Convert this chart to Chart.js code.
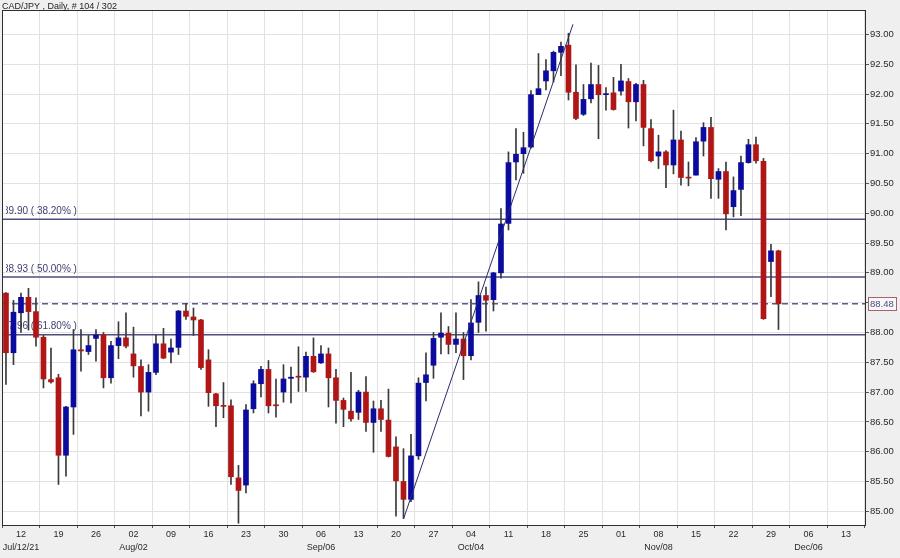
<!DOCTYPE html>
<html><head><meta charset="utf-8">
<script src="https://cdn.jsdelivr.net/npm/chart.js@4.4.1/dist/chart.umd.min.js"></script>
<style>html,body{margin:0;padding:0;background:#efefef;overflow:hidden}canvas{display:block}</style>
</head><body><canvas id="c" width="900" height="558"></canvas>
<script>
// ---------- data ----------
const chartTitle = 'CAD/JPY , Daily, # 104 / 302';
const firstDay = '2021-07-08';
const opens  = [88.66,87.66,88.33,88.59,88.35,87.92,87.21,87.24,85.94,86.75,87.71,87.68,87.90,87.96,87.24,87.78,87.91,87.64,87.43,87.00,87.33,87.81,87.67,87.75,88.36,88.26,88.21,87.54,86.97,86.77,86.77,85.56,85.44,86.72,87.14,87.38,86.78,87.00,87.23,87.26,87.25,87.60,87.49,87.64,87.24,86.86,86.68,86.66,87.00,86.49,86.72,86.53,86.08,85.50,85.20,85.93,87.16,87.45,87.92,87.99,87.80,87.89,87.61,88.17,88.62,88.55,89.00,89.83,90.86,91.00,91.11,91.99,92.22,92.39,92.70,92.82,92.03,91.66,91.92,92.16,91.99,92.02,92.05,92.21,91.87,92.16,91.42,90.96,91.03,90.81,91.23,90.60,90.64,91.21,91.44,90.57,90.70,90.11,90.40,90.85,91.15,90.87,89.19,89.37];
const highs  = [88.67,88.54,88.66,88.74,88.58,87.95,87.74,87.30,86.76,88.05,88.05,87.95,88.05,88.00,87.85,88.18,88.33,88.09,87.54,87.46,87.96,88.07,87.89,88.37,88.49,88.41,88.22,87.71,86.98,87.16,86.87,85.77,86.79,87.19,87.43,87.53,87.22,87.46,87.42,87.76,87.67,87.91,87.78,87.74,87.38,86.90,87.33,87.03,87.26,86.85,86.86,87.05,86.25,86.05,86.29,87.24,87.66,88.00,88.33,88.10,88.33,88.00,88.55,88.85,88.76,89.01,90.08,91.03,91.42,91.36,92.06,92.68,92.58,92.72,92.87,93.02,92.49,92.16,92.52,92.48,92.11,92.28,92.50,92.26,92.18,92.23,91.57,91.31,91.05,91.73,91.38,90.86,91.27,91.52,91.61,90.75,90.86,90.61,90.96,91.24,91.28,90.92,89.48,89.38];
const lows   = [87.13,87.46,88.00,88.04,87.77,87.07,87.15,85.45,85.59,86.29,87.35,87.63,87.52,87.07,87.15,87.56,87.74,87.25,86.60,86.68,87.29,87.56,87.49,87.63,88.22,87.95,87.38,86.76,86.42,86.57,85.45,84.80,85.31,86.65,86.92,86.65,86.58,86.83,86.82,87.01,87.01,87.33,87.48,86.75,86.48,86.42,86.51,86.54,86.34,85.99,86.34,85.91,84.92,84.88,85.16,85.87,86.85,87.23,87.64,87.64,87.66,87.21,87.54,88.00,88.02,88.36,88.91,89.72,90.56,90.67,91.09,91.99,92.07,92.20,92.31,91.90,91.57,91.64,91.85,91.25,91.73,91.73,91.98,91.43,91.55,91.13,90.86,90.75,90.43,90.66,90.47,90.46,90.64,90.96,90.25,90.25,89.72,89.94,89.96,90.84,90.84,88.22,88.60,88.05];
const closes = [87.66,88.34,88.59,88.35,87.92,87.22,87.17,85.94,86.75,87.71,87.69,87.78,87.96,87.24,87.78,87.91,87.77,87.44,87.00,87.33,87.81,87.57,87.74,88.36,88.27,88.21,87.41,86.99,86.77,86.76,85.58,85.35,86.70,87.14,87.38,86.77,86.77,87.22,87.25,87.25,87.60,87.34,87.64,87.24,86.86,86.71,86.55,87.00,86.49,86.72,86.54,85.92,85.51,85.20,85.93,87.15,87.29,87.90,87.99,87.80,87.89,87.61,88.16,88.62,88.54,89.00,89.82,90.85,90.99,91.10,91.99,92.09,92.39,92.70,92.80,92.03,91.59,91.91,92.16,91.99,92.00,91.74,92.22,91.87,92.16,91.44,90.88,91.03,90.81,91.23,90.60,90.59,91.20,91.44,90.58,90.70,89.99,90.38,90.85,91.15,90.88,88.23,89.37,88.48];
const yTicks = [85.00,85.50,86.00,86.50,87.00,87.50,88.00,88.50,89.00,89.50,90.00,90.50,91.00,91.50,92.00,92.50,93.00];
const fibLevels = [89.90, 88.93, 87.96];
const fibLabels = ['89.90 ( 38.20% )', '88.93 ( 50.00% )', '87.96 ( 61.80% )'];
const lastPrice = 88.48;
const trendBars = [53, 75.6];
const trendValues = [84.87, 93.17];
const monthMarkDates = ['2021-07-12','2021-08-02','2021-09-06','2021-10-04','2021-11-08','2021-12-06'];
const monthMarkLabels = ['Jul/12/21','Aug/02','Sep/06','Oct/04','Nov/08','Dec/06'];

// ---------- view / style ----------
const FONT = "'Liberation Sans', Arial, sans-serif";
const X_MIN = -0.53, X_MAX = 114.67, Y_MIN = 84.77, Y_MAX = 93.41;
const UP = '#0b0b9e', DOWN = '#b01616', WICK = '#3a3a3a';
const FIB = '#4e4e7e';

// trading days (weekdays) starting at firstDay
const tradingDays = [];
{
  const [yy, mm, dd] = firstDay.split('-').map(Number);
  const d = new Date(Date.UTC(yy, mm - 1, dd));
  while (tradingDays.length < Math.ceil(X_MAX) + 1) {
    const wd = d.getUTCDay();
    if (wd !== 0 && wd !== 6) tradingDays.push(new Date(d));
    d.setUTCDate(d.getUTCDate() + 1);
  }
}
const xTickIdx = [], xTickLabel = {};
tradingDays.forEach((d, i) => {
  if (d.getUTCDay() === 1 && i <= X_MAX) {
    xTickIdx.push(i);
    const day = String(d.getUTCDate()).padStart(2, '0');
    const k = monthMarkDates.indexOf(d.toISOString().slice(0, 10));
    xTickLabel[i] = k >= 0 ? [day, monthMarkLabels[k]] : day;
  }
});

const bodies = opens.map((o, i) => ({x: i, y: [o, closes[i]]}));
const wicks = lows.map((l, i) => ({x: i, y: [l, highs[i]]}));
const bodyColors = opens.map((o, i) => closes[i] >= o ? UP : DOWN);

const hLine = v => [{x: X_MIN, y: v}, {x: X_MAX, y: v}];

const datasets = [
  ...fibLevels.map(v => ({type: 'line', data: hLine(v), borderColor: FIB, borderWidth: 1.5, pointRadius: 0, order: 5})),
  {type: 'line', data: hLine(lastPrice), borderColor: '#5c5c8c', borderWidth: 1.5, borderDash: [6, 4], pointRadius: 0, order: 4},
  {type: 'bar', data: wicks, backgroundColor: WICK, barThickness: 1, grouped: false, order: 3},
  {type: 'bar', data: bodies, backgroundColor: bodyColors, barThickness: 5, minBarLength: 1, grouped: false, order: 2},
  {type: 'line', data: trendBars.map((b, i) => ({x: b, y: trendValues[i]})), borderColor: '#2b2b6e', borderWidth: 1, pointRadius: 0, order: 1}
];

const framePlugin = {
  id: 'frame',
  beforeDraw(chart) {
    const {ctx, chartArea: a} = chart;
    ctx.save();
    ctx.fillStyle = '#efefef';
    ctx.fillRect(0, 0, chart.width, chart.height);
    ctx.fillStyle = '#ffffff';
    ctx.fillRect(a.left, a.top, a.right - a.left, a.bottom - a.top);
    ctx.restore();
  },
  beforeDatasetsDraw(chart) {
    const {ctx, chartArea: a, scales: {y}} = chart;
    ctx.save();
    ctx.beginPath();
    ctx.rect(a.left + 4, a.top, a.right - a.left - 4, a.bottom - a.top);
    ctx.clip();
    ctx.font = '10px ' + FONT;
    ctx.fillStyle = '#3e3e72';
    ctx.textBaseline = 'alphabetic';
    fibLevels.forEach((lv, k) => {
      ctx.fillText(fibLabels[k], a.left + 1, y.getPixelForValue(lv) - 5.5);
    });
    ctx.restore();
  },
  afterDraw(chart) {
    const {ctx, chartArea: a, scales: {y}} = chart;
    ctx.save();
    ctx.strokeStyle = '#2e2e2e';
    ctx.lineWidth = 1;
    ctx.strokeRect(a.left + 0.5, a.top + 0.5, a.right - a.left - 1, a.bottom - a.top);
    ctx.font = '9px ' + FONT;
    ctx.fillStyle = '#1e1e1e';
    ctx.textBaseline = 'alphabetic';
    ctx.fillText(chartTitle, 2, 9);
    const py = Math.round(y.getPixelForValue(lastPrice));
    ctx.fillStyle = '#fbf7f7';
    ctx.fillRect(a.right + 2.5, py - 6.5, 28, 13);
    ctx.strokeStyle = '#a8606e';
    ctx.strokeRect(a.right + 2.5, py - 6.5, 28, 13);
    ctx.fillStyle = '#4c4c82';
    ctx.font = '9.5px ' + FONT;
    ctx.textBaseline = 'middle';
    ctx.fillText(lastPrice.toFixed(2), a.right + 4, py + 0.5);
    ctx.restore();
  }
};

new Chart(document.getElementById('c'), {
  type: 'bar',
  data: {datasets},
  options: {
    responsive: false,
    devicePixelRatio: 1,
    animation: false,
    events: [],
    layout: {padding: {top: 10, left: 2, right: 0, bottom: 0}},
    plugins: {legend: {display: false}, tooltip: {enabled: false}, title: {display: false}},
    scales: {
      x: {
        type: 'linear', min: X_MIN, max: X_MAX, offset: false,
        afterBuildTicks: ax => { ax.ticks = xTickIdx.map(v => ({value: v})); },
        afterFit: ax => { ax.height = 33; },
        grid: {color: '#e2e2e2', tickColor: '#555555', tickLength: 3, lineWidth: 1},
        border: {display: false},
        ticks: {
          autoSkip: false, maxRotation: 0, minRotation: 0, padding: 0,
          color: '#2a2a2a', font: {family: FONT, size: 9, lineHeight: 1.45},
          callback: v => xTickLabel[v] ?? ''
        }
      },
      y: {
        position: 'right', min: Y_MIN, max: Y_MAX,
        afterBuildTicks: ax => { ax.ticks = yTicks.map(v => ({value: v})); },
        afterFit: ax => { ax.width = 34; },
        grid: {color: '#e2e2e2', tickColor: '#555555', tickLength: 3, lineWidth: 1},
        border: {display: false},
        ticks: {
          padding: 1, color: '#2a2a2a', font: {family: FONT, size: 9.5},
          callback: v => Math.abs(v - lastPrice) < 0.1 ? '' : v.toFixed(2)
        }
      }
    }
  },
  plugins: [framePlugin]
});
</script>
</body></html>
